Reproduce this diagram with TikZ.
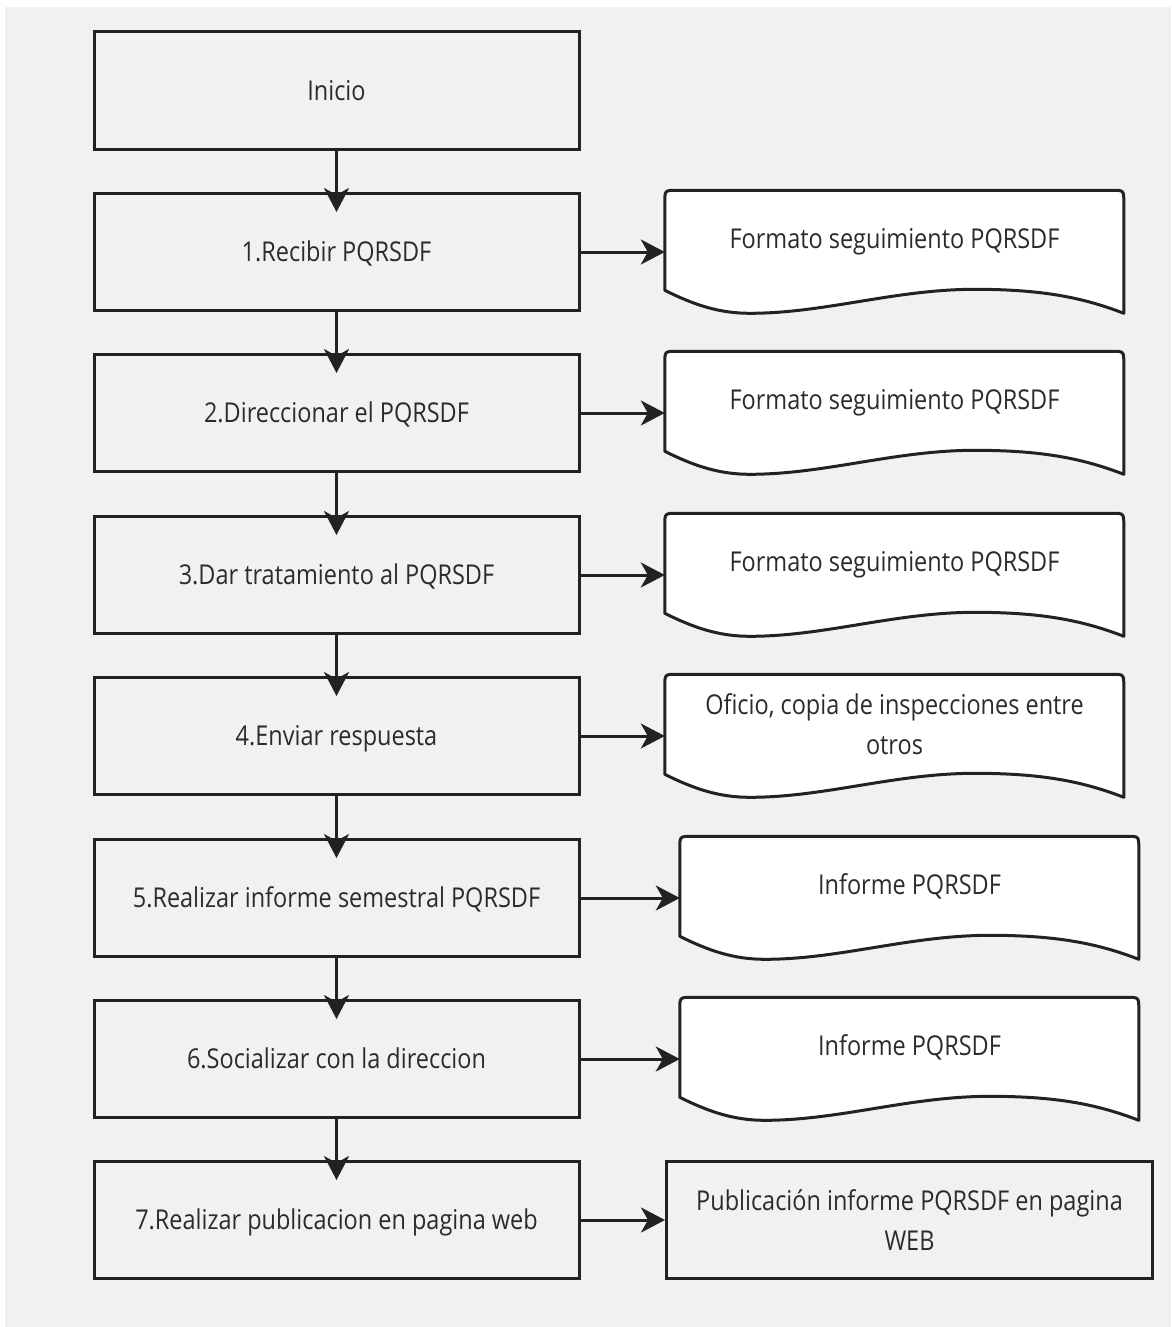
\documentclass[tikz,border=0pt]{standalone}
\usepackage{fontspec}
\setmainfont{Open Sans}[FakeStretch=0.86]
\usetikzlibrary{arrows.meta,calc}
\definecolor{bg}{HTML}{F1F1F1}
\definecolor{ln}{HTML}{222222}
\definecolor{tx}{HTML}{2B2B2B}
\newcommand\docshape[1]{%
  \begin{scope}[shift={(#1.north west)}]
    \draw[draw=ln, line width=3pt, fill=white, line join=round]
      (0,100) -- (0,12) .. controls (0,0) .. (12,0) -- (447,0)
      .. controls (459,0) .. (459,12) -- (459,123)
      .. controls (420,108) and (380,99) .. (310,99)
      .. controls (230,99) and (160,123) .. (85,123)
      .. controls (55,123) and (30,115) .. (0,100) -- cycle;
  \end{scope}}
\begin{document}
\begin{tikzpicture}[x=1pt,y=-1pt,
  font=\fontsize{27.3}{40}\selectfont,
  procbase/.style={draw=ln, line width=3pt, minimum width=485pt, minimum height=117pt,
    inner sep=0pt, text=tx, fill=bg, align=center},
  proc/.style={procbase, text height=19.5pt, text depth=0pt},
  docframe/.style={minimum width=459pt, minimum height=123pt, inner sep=0pt},
  doctext/.style={text=tx, align=center, inner sep=0pt},
  onel/.style={text height=19.5pt, text depth=0pt},
  flow/.style={draw=ln, line width=3pt, -{Stealth[length=24pt,width=25pt,inset=7pt]}}]
\useasboundingbox (0,0) rectangle (1171,1327);
\fill[bg] (5,7) rectangle (1171,1327);

% process boxes
\node[proc] (b0) at (336.5,90.5) {Inicio};
\node[proc] (b1) at (336.5,252) {1.Recibir PQRSDF};
\node[proc] (b2) at (336.5,413) {2.Direccionar el PQRSDF};
\node[proc] (b3) at (336.5,575) {3.Dar tratamiento al PQRSDF};
\node[proc] (b4) at (336.5,736) {4.Enviar respuesta};
\node[proc] (b5) at (336.5,898) {5.Realizar informe semestral PQRSDF};
\node[proc] (b6) at (336.5,1059) {6.Socializar con la direccion};
\node[proc] (b7) at (336.5,1220) {7.Realizar publicacion en pagina web};

% documents
\node[docframe] (d1) at (894.5,252) {};
\node[docframe] (d2) at (894.5,413) {};
\node[docframe] (d3) at (894.5,575) {};
\node[docframe] (d4) at (894.5,736) {};
\node[docframe] (d5) at (909.5,898) {};
\node[docframe] (d6) at (909.5,1059) {};
\docshape{d1}\docshape{d2}\docshape{d3}\docshape{d4}\docshape{d5}\docshape{d6}
\node[doctext, onel] (t1) at ($(d1.north)+(0,48)$) {Formato seguimiento PQRSDF};
\node[doctext, onel] (t2) at ($(d2.north)+(0,48)$) {Formato seguimiento PQRSDF};
\node[doctext, onel] (t3) at ($(d3.north)+(0,48)$) {Formato seguimiento PQRSDF};
\node[doctext] (t4) at ($(d4.north)+(0,50)$) {Oficio, copia de inspecciones entre\\otros};
\node[doctext, onel] (t5) at ($(d5.north)+(0,48)$) {Informe PQRSDF};
\node[doctext, onel] (t6) at ($(d6.north)+(0,48)$) {Informe PQRSDF};
\node[procbase, minimum width=486pt] (d7) at (909.5,1220) {Publicación informe PQRSDF en pagina\\WEB};

% vertical flow
\foreach \a/\b in {b0/b1,b1/b2,b2/b3,b3/b4,b4/b5,b5/b6,b6/b7}
  \draw[flow] (\a.south) -- ([yshift=-20pt]\b.north);
% outputs
\foreach \i in {1,...,7}
  \draw[flow] (b\i.east) -- (d\i.west);
\end{tikzpicture}
\end{document}
